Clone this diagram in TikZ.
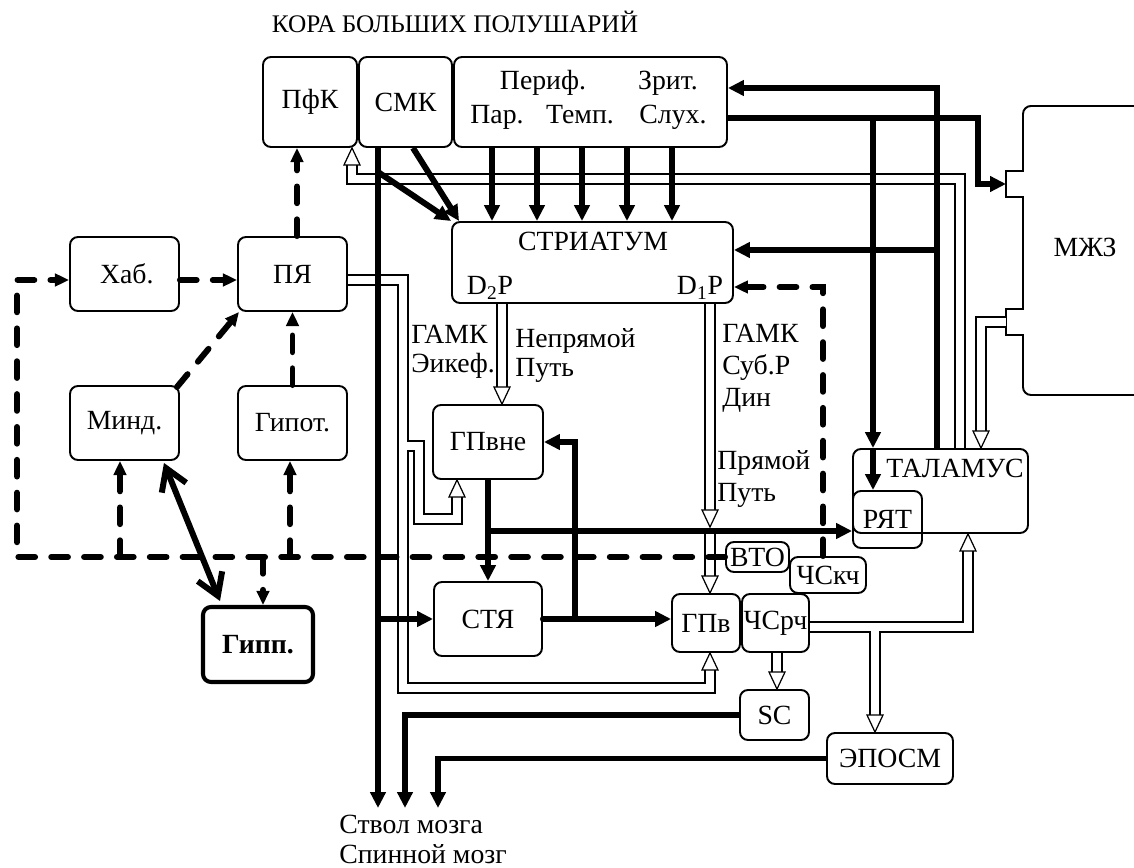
\documentclass[tikz,border=0pt]{standalone}
\usepackage{fontspec}
\setmainfont{Liberation Serif}
\usetikzlibrary{arrows.meta}

\begin{document}
\begin{tikzpicture}[
    x=0.02cm, y=-0.02cm,
    box/.style={draw, line width=1.1pt, rounded corners=4.5pt, inner sep=0pt, font=\fontsize{15.8}{19}\selectfont},
    txt/.style={inner sep=0pt, font=\fontsize{15.8}{19}\selectfont},
    arr/.style={line width=3.4pt, -{Triangle[length=9pt, width=8.5pt]}},
    dsh/.style={line width=3.4pt, line cap=round, dash pattern=on 9.5pt off 9.2pt, -{Triangle[length=8pt, width=7pt]}},
    dbl/.style={double, double distance=4.9pt, line width=0.7pt},
    twoway/.style={line width=3.4pt, {Straight Barb[length=12pt, width=15pt]}-{Straight Barb[length=12pt, width=15pt]}},
    hup/.pic={\draw[line width=0.7pt, fill=white] (0,0) -- (8,17) -- (-8,17) -- cycle;},
    hdown/.pic={\draw[line width=0.7pt, fill=white] (0,0) -- (8,-17) -- (-8,-17) -- cycle;}
]
\useasboundingbox (0,0) rectangle (1134,868);

% cortex
\node[txt, font=\fontsize{14.4}{17}\selectfont] (title) at (455,22) {КОРА БОЛЬШИХ ПОЛУШАРИЙ};
\node[box, minimum width=1.88cm, minimum height=1.8cm] (pfk) at (310,102) {ПфК};
\node[box, minimum width=1.86cm, minimum height=1.8cm] (smk) at (405.5,102) {СМК};
\node[box, minimum width=5.46cm, minimum height=1.8cm] (cortex) at (590.5,102) {};
\node[txt, anchor=base] (perif) at (543,90) {Периф.};
\node[txt, anchor=base] (zrit) at (668,90) {Зрит.};
\node[txt, anchor=base] (par) at (497,124) {Пар.};
\node[txt, anchor=base] (temp) at (580,124) {Темп.};
\node[txt, anchor=base] (sluh) at (673,124) {Слух.};

% striatum
\node[box, minimum width=5.62cm, minimum height=1.62cm] (str) at (592.5,262.5) {};
\node[txt, anchor=base] (strtext) at (593,251) {СТРИАТУМ};
\node[txt, anchor=base] (d2p) at (490,295) {D\textsubscript{2}P};
\node[txt, anchor=base] (d1p) at (700,295) {D\textsubscript{1}P};

% limbic side
\node[box, minimum width=2.18cm, minimum height=1.48cm] (hab) at (124.5,274) {\,Хаб.};
\node[box, minimum width=2.18cm, minimum height=1.48cm] (pya) at (292.5,274) {ПЯ};
\node[box, minimum width=2.18cm, minimum height=1.48cm] (mind) at (124.5,423) {Минд.};
\node[box, minimum width=2.18cm, minimum height=1.48cm] (gipot) at (292.5,423) {Гипот.};
\node[box, line width=2.3pt, minimum width=2.2cm, minimum height=1.5cm] (gipp) at (258,644.5) {\textbf{Гипп.}};

% basal ganglia
\node[box, minimum width=2.2cm, minimum height=1.48cm] (gpvne) at (488,442) {ГПвне};
\node[box, minimum width=2.16cm, minimum height=1.48cm] (stya) at (488,619) {СТЯ};
\node[box, minimum width=1.36cm, minimum height=1.16cm] (gpv) at (706,623) {ГПв};
\node[box, minimum width=1.34cm, minimum height=1.16cm] (chsrch) at (775.5,623) {ЧСрч};
\node[box, minimum width=1.26cm, minimum height=0.6cm] (vto) at (757.5,557) {ВТО};
\node[box, minimum width=1.52cm, minimum height=0.72cm] (chskch) at (828,575) {ЧСкч};
\node[box, minimum width=1.38cm, minimum height=1cm] (sc) at (774.5,715) {SC};
\node[box, minimum width=2.52cm, minimum height=1.02cm] (eposm) at (890,758.5) {ЭПОСМ};

% thalamus
\node[box, minimum width=3.5cm, minimum height=1.68cm] (thal) at (940.5,491) {};
\node[txt, anchor=base] (thaltext) at (955,478) {ТАЛАМУС};
\node[box, minimum width=1.38cm, minimum height=1.14cm] (ryat) at (887.5,519.5) {РЯТ};

% MZhZ
\draw[line width=1.1pt, rounded corners=4.5pt] (1150,106) -- (1023,106) -- (1023,150) [sharp corners]
    -- (1023,171) -- (1006,171) -- (1006,197) -- (1023,197) -- (1023,309) -- (1006,309)
    -- (1006,335) -- (1023,335) -- (1023,360) [rounded corners=4.5pt] -- (1023,395) -- (1150,395);
\node[txt] (mzhz) at (1085,247) {МЖЗ};
\coordinate (mzhzin) at (1006,184);
\coordinate (mzhzout) at (1006,322);

% labels
\node[txt, anchor=base west] (gamka) at (411,344) {ГАМК};
\node[txt, anchor=base west] (eikef) at (411,373) {Эикеф.};
\node[txt, anchor=base west] (nepr) at (515,348) {Непрямой};
\node[txt, anchor=base west] (puta) at (515,377) {Путь};
\node[txt, anchor=base west] (gamkb) at (722,343) {ГАМК};
\node[txt, anchor=base west] (subp) at (722,375) {Суб.Р};
\node[txt, anchor=base west] (din) at (722,407) {Дин};
\node[txt, anchor=base west] (pryam) at (717,470) {Прямой};
\node[txt, anchor=base west] (putb) at (717,502) {Путь};
\node[txt, anchor=base west] (stvol) at (339,833) {Ствол мозга};
\node[txt, anchor=base west] (spin) at (339,863) {Спинной мозг};

\coordinate (stem1) at (378,808);
\coordinate (stem2) at (405,808);
\coordinate (stem3) at (438,808);
\coordinate (pfkc) at (352,179);
\coordinate (cmz) at (978,184);
\coordinate (br1) at (873,118);
\coordinate (lc) at (17,280);
\coordinate (jm) at (120,557);
\coordinate (jh) at (263,557);
\coordinate (jg) at (290,557);
\coordinate (d1c) at (710,527);

% tips of the hollow arrows
\coordinate (tpfk) at (pfk.south -| pfkc);
\coordinate (tgpvne) at (gpvne.north -| 502,0);
\coordinate (tgpvneb) at (gpvne.south -| 457,0);
\coordinate (tgpv) at (gpv.north -| d1c);
\coordinate (tgpvb) at (gpv.south -| d1c);
\coordinate (tsc) at (sc.north -| 777,0);
\coordinate (teposm) at (eposm.north -| 875,0);
\coordinate (tthal) at (thal.south -| 968,0);
\coordinate (tthalt) at (thal.north -| 981,0);

% double (hollow) paths
\draw[dbl] (thal.north -| 960,0) |- (pfkc) -- ([shift={(0,15)}]tpfk);
\draw[dbl] (str.south -| tgpvne) -- ([shift={(0,-15)}]tgpvne);
\draw[dbl] (str.south -| d1c) -- ([shift={(0,-15)}]d1c);
\draw[dbl] (d1c |- 0,531) -- ([shift={(0,-15)}]tgpv);
\draw[dbl] ([shift={(0,15)}]tgpvneb) |- (419,519) |- (403,446)
    (pya.east |- 0,280) -| (403,688) -| ([shift={(0,15)}]tgpvb);
\draw[dbl] (chsrch.south -| tsc) -- ([shift={(0,-15)}]tsc);
\draw[dbl] ([shift={(0,-15)}]teposm) -- (875,627)
    (chsrch.east |- 0,627) -| ([shift={(0,15)}]tthal);
\draw[dbl] (mzhzout) -| ([shift={(0,-15)}]tthalt);
\foreach \t in {tpfk,tgpvneb,tgpvb,tthal}
    \pic at (\t) {hup};
\foreach \t in {tgpvne,d1c,tgpv,tsc,teposm,tthalt}
    \pic at (\t) {hdown};

% thick paths
\draw[arr] (smk.south -| stem1) -- (stem1);
\draw[arr] (stem1 |- stya.west) -- (stya.west);
\draw[arr] (sc.west) -| (stem2);
\draw[arr] (eposm.west) -| (stem3);
\draw[arr] (378,172) -- (str.north west);
\draw[arr] (smk.south -| 413,0) -- ([shift={(8,0)}]str.north west);
\foreach \x in {492,537,582,627,672}
    \draw[arr] (cortex.south -| \x,0) -- (str.north -| \x,0);
\draw[arr] (cortex.east |- br1) -| (cmz) -- (mzhzin);
\draw[arr] (br1) -- (br1 |- thal.north);
\draw[arr] (br1 |- thal.north) -- (br1 |- ryat.north);
\draw[arr] (thal.north -| 937,0) |- (cortex.east |- 0,88);
\draw[arr] (937,250) -- (str.east |- 0,250);
\draw[arr] (gpvne.south) -- (stya.north);
\draw[arr] (gpvne.south |- 0,531) -- (thal.west |- 0,531);
\draw[arr, line cap=round] (stya.east) -- (gpv.west |- stya.east);
\draw[arr] (stya.east -| 575,0) |- (gpvne.east);

% dashed paths
\draw[dsh] (vto.west) -| (lc) -- ([shift={(0,6)}]hab.west);
\draw[dsh] ([shift={(0,6)}]hab.east) -- ([shift={(0,6)}]pya.west);
\draw[dsh] (pya.north -| 297,0) -- (pfk.south -| 297,0);
\draw[dsh] ([shift={(-3,2)}]mind.north east) -- ([shift={(2,0)}]pya.south west);
\draw[dsh] (gipot.north) -- (pya.south);
\draw[dsh] (jm) -- (jm |- mind.south);
\draw[dsh] (jg) -- (jg |- gipot.south);
\draw[dsh] (jh) -- (jh |- gipp.north);
\draw[dsh] (chskch.north -| 823,0) |- (str.east |- 0,287);
\draw[twoway] ([shift={(-16,2)}]mind.south east) -- ([shift={(19,-4)}]gipp.north west);

\end{tikzpicture}
\end{document}
